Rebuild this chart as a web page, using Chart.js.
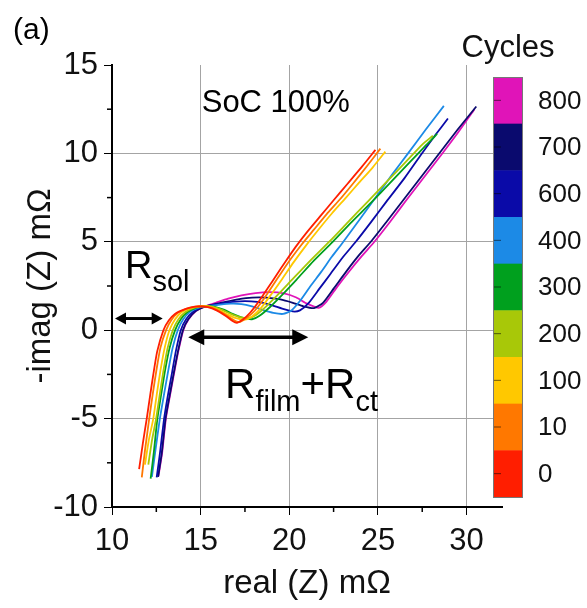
<!DOCTYPE html>
<html>
<head>
<meta charset="utf-8">
<script src="https://cdn.jsdelivr.net/npm/chart.js@4.4.1/dist/chart.umd.min.js"></script>
<style>
  html, body { margin: 0; padding: 0; background: #fff; }
  canvas { display: block; }
</style>
</head>
<body>
<canvas id="nyquist" width="587" height="608"></canvas>
<script>
// cycle labels and colours (colour bar, bottom to top)
const cycles = ['0', '10', '100', '200', '300', '400', '600', '700', '800'];
const cycleColors = ['#ff1e00', '#ff7800', '#ffc800', '#a8c808', '#00a01e', '#1c8ae6', '#0a0aa8', '#0a0a6e', '#e014b8'];

// [real(Z), -imag(Z)] in mOhm
const cycle0 = [[11.53,-7.86],[11.74,-6.4],[11.96,-5.0],[12.15,-3.7],[12.33,-2.5],[12.55,-1.2],[12.9,0],[13.2,0.55],[13.55,0.92],[13.95,1.12],[14.4,1.28],[14.9,1.35],[15.4,1.3],[15.9,1.12],[16.4,0.82],[16.8,0.52],[17.05,0.42],[17.4,0.62],[17.8,1.0],[18.3,1.65],[18.8,2.4],[19.3,3.15],[19.8,3.9],[20.35,4.7],[21.0,5.55],[21.75,6.45],[22.5,7.35],[23.3,8.3],[24.1,9.25],[24.86,10.2]];
const cycle10 = [[11.68,-8.33],[11.86,-6.8],[12.1,-5.0],[12.3,-3.6],[12.5,-2.3],[12.73,-1.0],[13.05,0],[13.35,0.58],[13.72,0.98],[14.15,1.2],[14.65,1.32],[15.2,1.35],[15.7,1.25],[16.2,1.0],[16.7,0.68],[17.0,0.5],[17.23,0.47],[17.6,0.7],[18.05,1.1],[18.55,1.75],[19.05,2.5],[19.55,3.25],[20.1,4.05],[20.7,4.85],[21.4,5.7],[22.1,6.55],[22.9,7.45],[23.6,8.3],[24.4,9.3],[25.14,10.27]];
const cycle100 = [[11.86,-7.6],[12.08,-6.2],[12.33,-5.0],[12.53,-3.6],[12.73,-2.3],[12.97,-1.0],[13.24,0],[13.55,0.6],[13.92,1.02],[14.4,1.25],[14.95,1.36],[15.5,1.33],[16.0,1.15],[16.5,0.9],[17.0,0.68],[17.5,0.6],[17.9,0.78],[18.4,1.25],[19.0,2.05],[19.6,2.9],[20.25,3.85],[20.95,4.8],[21.7,5.75],[22.4,6.6],[23.2,7.5],[23.9,8.3],[24.7,9.2],[25.42,10.1]];
const cycle200 = [[12.05,-7.6],[12.26,-6.2],[12.49,-5.0],[12.7,-3.6],[12.9,-2.3],[13.14,-1.0],[13.43,0],[13.75,0.62],[14.12,1.02],[14.6,1.26],[15.15,1.37],[15.7,1.32],[16.2,1.15],[16.7,0.92],[17.2,0.74],[17.7,0.68],[18.1,0.85],[18.7,1.35],[19.4,2.05],[20.2,2.9],[21.2,3.95],[22.3,5.05],[23.3,6.1],[24.4,7.25],[25.5,8.4],[26.6,9.55],[27.5,10.5],[28.1,11.0]];
const cycle300 = [[12.18,-8.4],[12.36,-6.9],[12.56,-5.0],[12.78,-3.6],[12.99,-2.3],[13.25,-1.0],[13.56,0],[13.88,0.62],[14.26,1.03],[14.75,1.28],[15.3,1.38],[15.8,1.32],[16.3,1.16],[16.8,0.92],[17.3,0.72],[17.9,0.62],[18.3,0.8],[18.9,1.3],[19.6,2.0],[20.4,2.85],[21.4,3.95],[22.45,5.0],[23.5,6.1],[24.6,7.2],[25.7,8.35],[26.8,9.5],[27.7,10.45],[28.34,11.1]];
const cycle400 = [[12.25,-8.3],[12.45,-6.8],[12.7,-5.0],[12.94,-3.6],[13.17,-2.3],[13.42,-1.0],[13.71,0],[14.02,0.62],[14.42,1.05],[14.9,1.28],[15.5,1.38],[16.1,1.45],[16.7,1.5],[17.3,1.48],[17.9,1.35],[18.5,1.15],[19.1,0.98],[19.65,0.92],[20.1,1.1],[20.6,1.65],[21.2,2.5],[21.8,3.3],[22.4,4.15],[23.05,5.0],[24.0,6.3],[24.9,7.55],[25.8,8.8],[26.7,10.0],[27.7,11.35],[28.72,12.69]];
const cycle600 = [[12.52,-8.33],[12.7,-7.0],[12.94,-5.0],[13.15,-3.7],[13.37,-2.5],[13.6,-1.2],[13.88,0],[14.18,0.62],[14.58,1.05],[15.05,1.3],[15.6,1.42],[16.2,1.52],[16.8,1.6],[17.5,1.65],[18.2,1.6],[18.9,1.45],[19.6,1.22],[20.2,1.06],[20.6,1.12],[21.1,1.55],[21.7,2.35],[22.3,3.15],[23.0,4.1],[23.75,5.0],[24.6,6.1],[25.5,7.3],[26.5,8.6],[27.45,9.95],[28.25,11.05],[28.95,11.97]];
const cycle700 = [[12.6,-8.3],[12.8,-7.0],[13.02,-5.0],[13.25,-3.7],[13.47,-2.5],[13.72,-1.2],[14.0,0],[14.3,0.62],[14.72,1.08],[15.2,1.32],[15.75,1.46],[16.4,1.6],[17.1,1.74],[17.9,1.84],[18.7,1.84],[19.5,1.74],[20.2,1.55],[20.8,1.35],[21.4,1.25],[21.9,1.55],[22.5,2.35],[23.2,3.3],[23.9,4.2],[24.6,5.0],[25.5,6.15],[26.5,7.45],[27.5,8.75],[28.5,10.05],[29.5,11.35],[30.55,12.65]];
const cycle800 = [[12.62,-8.25],[12.82,-7.0],[13.04,-5.0],[13.27,-3.7],[13.49,-2.5],[13.74,-1.2],[14.02,0],[14.32,0.62],[14.75,1.1],[15.25,1.35],[15.85,1.55],[16.55,1.78],[17.3,1.97],[18.1,2.1],[18.9,2.15],[19.7,2.08],[20.4,1.85],[21.0,1.5],[21.66,1.27],[22.1,1.62],[22.7,2.45],[23.4,3.35],[24.1,4.2],[24.8,5.0],[25.7,6.15],[26.6,7.35],[27.6,8.65],[28.6,9.95],[29.5,11.15],[30.45,12.5]];

const cycleData = [cycle0, cycle10, cycle100, cycle200, cycle300, cycle400, cycle600, cycle700, cycle800];

// axis ranges / ticks
const xRange = [10, 32];
const yRange = [-10, 15];
const majorStep = 5;
const minorStep = 2.5;

const FONT = "'Liberation Sans', Arial, Helvetica, sans-serif";

function isMajor(v) { return Math.abs(v / majorStep - Math.round(v / majorStep)) < 1e-6; }

function doubleArrow(ctx, x1, x2, y, lw, headLen, headHalf) {
  ctx.strokeStyle = '#000';
  ctx.fillStyle = '#000';
  ctx.lineWidth = lw;
  ctx.beginPath();
  ctx.moveTo(x1 + headLen - 1, y);
  ctx.lineTo(x2 - headLen + 1, y);
  ctx.stroke();
  ctx.beginPath();
  ctx.moveTo(x1, y);
  ctx.lineTo(x1 + headLen, y - headHalf);
  ctx.lineTo(x1 + headLen, y + headHalf);
  ctx.closePath();
  ctx.fill();
  ctx.beginPath();
  ctx.moveTo(x2, y);
  ctx.lineTo(x2 - headLen, y - headHalf);
  ctx.lineTo(x2 - headLen, y + headHalf);
  ctx.closePath();
  ctx.fill();
}

function subText(ctx, parts, x, y) {
  ctx.textAlign = 'left';
  ctx.textBaseline = 'alphabetic';
  ctx.fillStyle = '#000';
  for (const p of parts) {
    ctx.font = p.size + 'px ' + FONT;
    ctx.fillText(p.t, x, y + p.dy);
    x += ctx.measureText(p.t).width;
  }
}

const extras = {
  id: 'extras',
  afterDraw(chart) {
    const { ctx, scales: { x, y } } = chart;
    ctx.save();

    // short minor ticks
    ctx.strokeStyle = '#000';
    ctx.lineWidth = 1.5;
    for (const t of x.ticks) {
      if (isMajor(t.value)) continue;
      const px = x.getPixelForValue(t.value);
      ctx.beginPath();
      ctx.moveTo(px, x.top);
      ctx.lineTo(px, x.top + 5);
      ctx.stroke();
    }
    for (const t of y.ticks) {
      if (isMajor(t.value)) continue;
      const py = y.getPixelForValue(t.value);
      ctx.beginPath();
      ctx.moveTo(y.right, py);
      ctx.lineTo(y.right - 5, py);
      ctx.stroke();
    }

    // arrows
    doubleArrow(ctx, x.getPixelForValue(10.17), x.getPixelForValue(12.86), y.getPixelForValue(0.66), 3, 11, 6);
    doubleArrow(ctx, x.getPixelForValue(14.3), x.getPixelForValue(21.07), y.getPixelForValue(-0.4), 3.5, 16, 8);

    // labels inside the plot
    ctx.fillStyle = '#000';
    ctx.font = '31px ' + FONT;
    ctx.textAlign = 'left';
    ctx.textBaseline = 'alphabetic';
    ctx.fillText('SoC 100%', x.getPixelForValue(15.06), y.getPixelForValue(12.35));

    subText(ctx, [
      { t: 'R', size: 38, dy: 0 },
      { t: 'sol', size: 29, dy: 13 }
    ], x.getPixelForValue(10.73), y.getPixelForValue(2.95));

    subText(ctx, [
      { t: 'R', size: 42, dy: 0 },
      { t: 'film', size: 29, dy: 13 },
      { t: '+R', size: 42, dy: 0 },
      { t: 'ct', size: 29, dy: 13 }
    ], x.getPixelForValue(16.38), y.getPixelForValue(-3.86));

    // panel letter
    ctx.font = '30px ' + FONT;
    ctx.textAlign = 'left';
    ctx.fillText('(a)', 13, 39);

    // colour bar
    const barL = 493, barT = 77, barW = 29, barH = 420;
    const seg = barH / cycles.length;
    for (let i = 0; i < cycles.length; i++) {
      const k = cycles.length - 1 - i;
      ctx.fillStyle = cycleColors[k];
      ctx.fillRect(barL, barT + i * seg, barW, seg + 0.5);
      ctx.strokeStyle = 'rgba(0,0,0,0.55)';
      ctx.lineWidth = 1;
      ctx.beginPath();
      ctx.moveTo(barL, barT + (i + 0.5) * seg);
      ctx.lineTo(barL + 8, barT + (i + 0.5) * seg);
      ctx.stroke();
      ctx.fillStyle = '#111';
      ctx.font = '26px ' + FONT;
      ctx.textAlign = 'left';
      ctx.textBaseline = 'middle';
      ctx.fillText(cycles[k], 538, barT + (i + 0.5) * seg + 1);
    }
    ctx.strokeStyle = '#777';
    ctx.lineWidth = 1;
    ctx.strokeRect(barL + 0.5, barT + 0.5, barW, barH);

    ctx.fillStyle = '#111';
    ctx.font = '31px ' + FONT;
    ctx.textAlign = 'center';
    ctx.textBaseline = 'alphabetic';
    ctx.fillText('Cycles', 508, 57);

    ctx.restore();
  }
};

function gridColor(c) {
  const v = c.tick ? c.tick.value : null;
  if (v === null) return 'transparent';
  const s = c.scale;
  if (!isMajor(v) || v === s.min || v === s.max) return 'transparent';
  return '#a4a4a4';
}

function tickColor(c) {
  const v = c.tick ? c.tick.value : null;
  return v !== null && isMajor(v) ? '#000' : 'transparent';
}

new Chart(document.getElementById('nyquist'), {
  type: 'scatter',
  data: {
    datasets: cycleData.map((pts, i) => ({
      label: cycles[i],
      data: pts.map(([re, im]) => ({ x: re, y: im })),
      showLine: true,
      borderColor: cycleColors[i],
      backgroundColor: cycleColors[i],
      borderWidth: 1.8,
      pointRadius: 0,
      tension: 0.2
    }))
  },
  options: {
    responsive: false,
    animation: false,
    devicePixelRatio: 1,
    layout: { padding: { top: 65, right: 85, left: 0, bottom: 0 } },
    plugins: {
      legend: { display: false },
      tooltip: { enabled: false }
    },
    scales: {
      x: {
        type: 'linear',
        min: xRange[0],
        max: xRange[1],
        afterFit(scale) { scale.height = 101; },
        border: { display: true, color: '#000', width: 2 },
        grid: { color: gridColor, tickColor: tickColor, tickLength: 8, lineWidth: 1 },
        ticks: {
          stepSize: minorStep,
          includeBounds: false,
          autoSkip: false,
          maxRotation: 0,
          padding: 8,
          color: '#111',
          font: { family: FONT, size: 31 },
          callback: (v) => isMajor(v) ? String(v) : ''
        },
        title: {
          display: true,
          text: 'real (Z) mΩ',
          color: '#111',
          font: { family: FONT, size: 33 },
          padding: { top: 0, bottom: 4 }
        }
      },
      y: {
        type: 'linear',
        min: yRange[0],
        max: yRange[1],
        afterFit(scale) { scale.width = 112; },
        border: { display: true, color: '#000', width: 2 },
        grid: { color: gridColor, tickColor: tickColor, tickLength: 8, lineWidth: 1 },
        ticks: {
          stepSize: minorStep,
          includeBounds: false,
          autoSkip: false,
          padding: 6,
          color: '#111',
          font: { family: FONT, size: 31 },
          callback: (v) => isMajor(v) ? String(v) : ''
        },
        title: {
          display: true,
          text: '-imag (Z) mΩ',
          color: '#111',
          font: { family: FONT, size: 33 },
          padding: { top: 21, bottom: 0 }
        }
      }
    }
  },
  plugins: [extras]
});
</script>
</body>
</html>
